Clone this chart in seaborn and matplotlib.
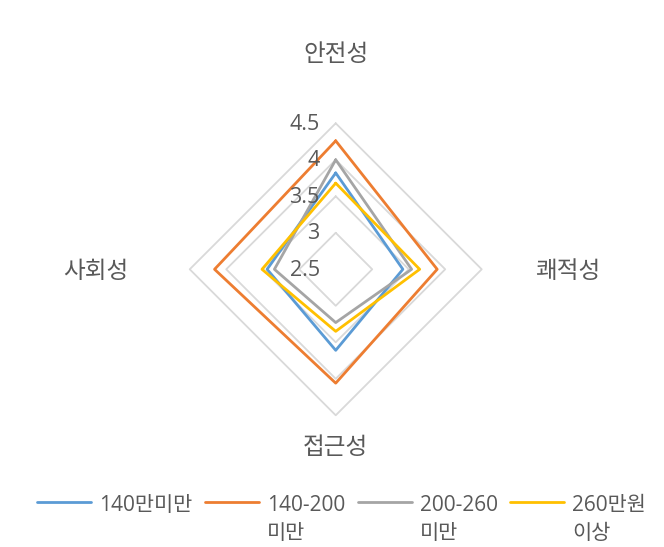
import numpy as np
import pandas as pd
import matplotlib
matplotlib.use("Agg")
import matplotlib.pyplot as plt
import seaborn as sns

# Survey scores per income group on four dimensions
dimensions = ["안전성", "쾌적성", "접근성", "사회성"]
groups = ["140만미만", "140-200\n미만", "200-260\n미만", "260만원\n이상"]
score_low = [3.82, 3.42, 3.61, 3.44]
score_mid1 = [4.26, 3.89, 4.06, 4.16]
score_mid2 = [4.00, 3.54, 3.23, 3.34]
score_high = [3.68, 3.65, 3.35, 3.51]
tick_values = [2.5, 3, 3.5, 4, 4.5]
tick_labels = ["2.5", "3", "3.5", "4", "4.5"]
palette = ["#5B9BD5", "#ED7D31", "#A5A5A5", "#FFC000"]

sns.set_theme(style="white")
plt.rcParams["font.family"] = ["Open Sans", "Noto Sans CJK KR", "DejaVu Sans"]
text_color = "#595959"

n = len(dimensions)
angles = np.linspace(0, 2 * np.pi, n, endpoint=False)
closed_angles = np.append(angles, 2 * np.pi)

rows = []
for name, vals in zip(groups, [score_low, score_mid1, score_mid2, score_high]):
    closed_vals = list(vals) + [vals[0]]
    for order, (a, v) in enumerate(zip(closed_angles, closed_vals)):
        rows.append({"group": name, "theta": a, "score": v, "order": order})
df = pd.DataFrame(rows)

fig = plt.figure(figsize=(6.64, 5.47), dpi=100)
ax = fig.add_axes([0.2857, 0.2408, 0.4398, 0.5338], projection="polar")
ax.set_theta_offset(np.pi / 2)
ax.set_theta_direction(-1)
ax.set_ylim(2.5, 4.5)

# Diamond-shaped grid rings
for level in tick_values[1:]:
    ax.plot(closed_angles, [level] * len(closed_angles), color="#D9D9D9",
            lw=1.3, zorder=1, clip_on=False)

sns.lineplot(data=df, x="theta", y="score", hue="group", hue_order=groups,
             palette=palette, sort=False, estimator=None, units="group",
             lw=2.0, ax=ax, zorder=3, legend=True)
for line in ax.lines:
    line.set_clip_on(False)

ax.grid(False)
ax.spines["polar"].set_visible(False)
ax.set_xticks([])
ax.set_yticks([])
ax.set_xlabel("")
ax.set_ylabel("")
ax.set_facecolor("none")

# Radial value labels along the upper axis
for v, lab in zip(tick_values, tick_labels):
    ax.annotate(lab, xy=(0, v), xytext=(-16, -1), textcoords="offset pixels",
                ha="right", va="center", fontsize=15.5, color=text_color,
                annotation_clip=False)

# Dimension labels around the chart
offsets = [(0, 69), (86, -2), (0, -32), (-94, -2)]
for ang, lab, (dx, dy) in zip(angles, dimensions, offsets):
    ax.annotate(lab, xy=(ang, 4.5), xytext=(dx, dy), textcoords="offset pixels",
                ha="center", va="center", fontsize=17, color=text_color,
                family=["Noto Sans CJK KR"], annotation_clip=False)

sns.move_legend(ax, loc="upper left", bbox_to_anchor=(37 / 664, 1 - 495 / 547),
                bbox_transform=fig.transFigure, ncol=4, frameon=False, title=None,
                fontsize=15, handlelength=2.6, handletextpad=0.38,
                columnspacing=0.6, borderpad=0, borderaxespad=0)
leg = ax.get_legend()
for t in leg.get_texts():
    t.set_color(text_color)
    t.set_linespacing(1.45)
for h in leg.legend_handles:
    h.set_linewidth(2.0)
# Keep each legend line beside the first row of its label
leg._legend_handle_box.align = "top"
for column in leg._legend_handle_box.get_children():
    column.align = "left"
    for entry in column.get_children():
        entry.align = "top"

fig.savefig("out.png", dpi=100, facecolor="white")
